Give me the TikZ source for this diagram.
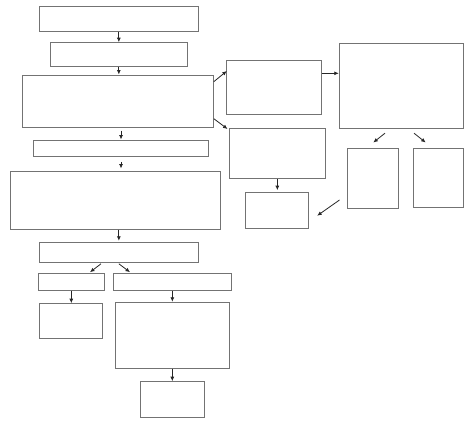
\documentclass[tikz,border=0pt]{standalone}
\usetikzlibrary{arrows.meta,calc}
\begin{document}
\begin{tikzpicture}[x=1pt,y=-1pt,
  box/.style={draw=black!55,line width=1pt,inner sep=0pt,fill=white},
  arr/.style={draw=black!85,line width=0.8pt,-{Latex[length=4.5pt,width=4pt]}}]
\useasboundingbox (0,0) rectangle (474,423);
\node[box,minimum width=158.3pt,minimum height=24.7pt] (b1) at (118.85,18.65) {};
\node[box,minimum width=137.7pt,minimum height=23.3pt] (b2) at (118.85,54.35) {};
\node[box,minimum width=191pt,minimum height=52.7pt] (b3) at (117.8,101.35) {};
\node[box,minimum width=175.4pt,minimum height=16.3pt] (b4) at (121,148.15) {};
\node[box,minimum width=210pt,minimum height=57.3pt] (b5) at (115.3,200.35) {};
\node[box,minimum width=95.3pt,minimum height=54pt] (b6) at (273.65,87.7) {};
\node[box,minimum width=124.4pt,minimum height=85.4pt] (b7) at (401.5,86) {};
\node[box,minimum width=95.3pt,minimum height=50.7pt] (b8) at (277.35,153.35) {};
\node[box,minimum width=63pt,minimum height=36.3pt] (b9) at (277.2,210.15) {};
\node[box,minimum width=50.7pt,minimum height=59.7pt] (b10) at (372.65,178.15) {};
\node[box,minimum width=50.4pt,minimum height=59.4pt] (b11) at (438.5,178) {};
\node[box,minimum width=158.3pt,minimum height=20pt] (b12) at (118.85,252.3) {};
\node[box,minimum width=66pt,minimum height=16.3pt] (b13) at (71.3,281.85) {};
\node[box,minimum width=117.3pt,minimum height=16.3pt] (b14) at (172.35,281.85) {};
\node[box,minimum width=63pt,minimum height=34.3pt] (b15) at (71.2,320.85) {};
\node[box,minimum width=114pt,minimum height=65.7pt] (b16) at (172.3,335.15) {};
\node[box,minimum width=64pt,minimum height=35.3pt] (b17) at (172.3,399.35) {};

\draw[arr] (b1.south) -- (b1.south |- b2.north);
\draw[arr] (b2.south) -- (b2.south |- b3.north);
\draw[arr,shorten <=2.3pt] (b4.north |- b3.south) -- (b4.north);
\draw[arr,shorten <=5pt,shorten >=2.7pt] (b4.south) -- (b4.south |- b5.north);
\draw[arr,shorten >=1pt] (b12.north |- b5.south) -- (b12.north);
\draw[arr] ([yshift=19.65pt]b3.east) -- ([xshift=1.3pt,yshift=16.7pt]b6.west);
\draw[arr] ([yshift=14.4pt]b6.east) -- ([yshift=14.4pt]b6.east -| b7.west);
\draw[arr] ([yshift=-17.35pt]b3.east) -- ([xshift=-1.7pt,yshift=24.35pt]b8.west);
\draw[arr,shorten >=1.3pt] (b8.south) -- (b8.south |- b9.north);
\draw[arr] ([xshift=-16.5pt,yshift=-4pt]b7.south) -- ([xshift=0.65pt,yshift=5.3pt]b10.north);
\draw[arr] ([xshift=12.5pt,yshift=-4pt]b7.south) -- ([xshift=-12.8pt,yshift=5.3pt]b11.north);
\draw[arr] ([xshift=-7.3pt,yshift=-21.85pt]b10.west) -- ([xshift=8pt,yshift=-5.55pt]b9.east);
\draw[arr] ([xshift=-17.85pt,yshift=-1pt]b12.south) -- ([xshift=18.7pt,yshift=1pt]b13.north);
\draw[arr] ([yshift=-1pt]b12.south) -- ([xshift=-42.35pt,yshift=1pt]b14.north);
\draw[arr] (b13.south) -- (b13.south |- b15.north);
\draw[arr] (b14.south) -- (b14.south |- b16.north);
\draw[arr] (b16.south) -- (b16.south |- b17.north);
\end{tikzpicture}
\end{document}
